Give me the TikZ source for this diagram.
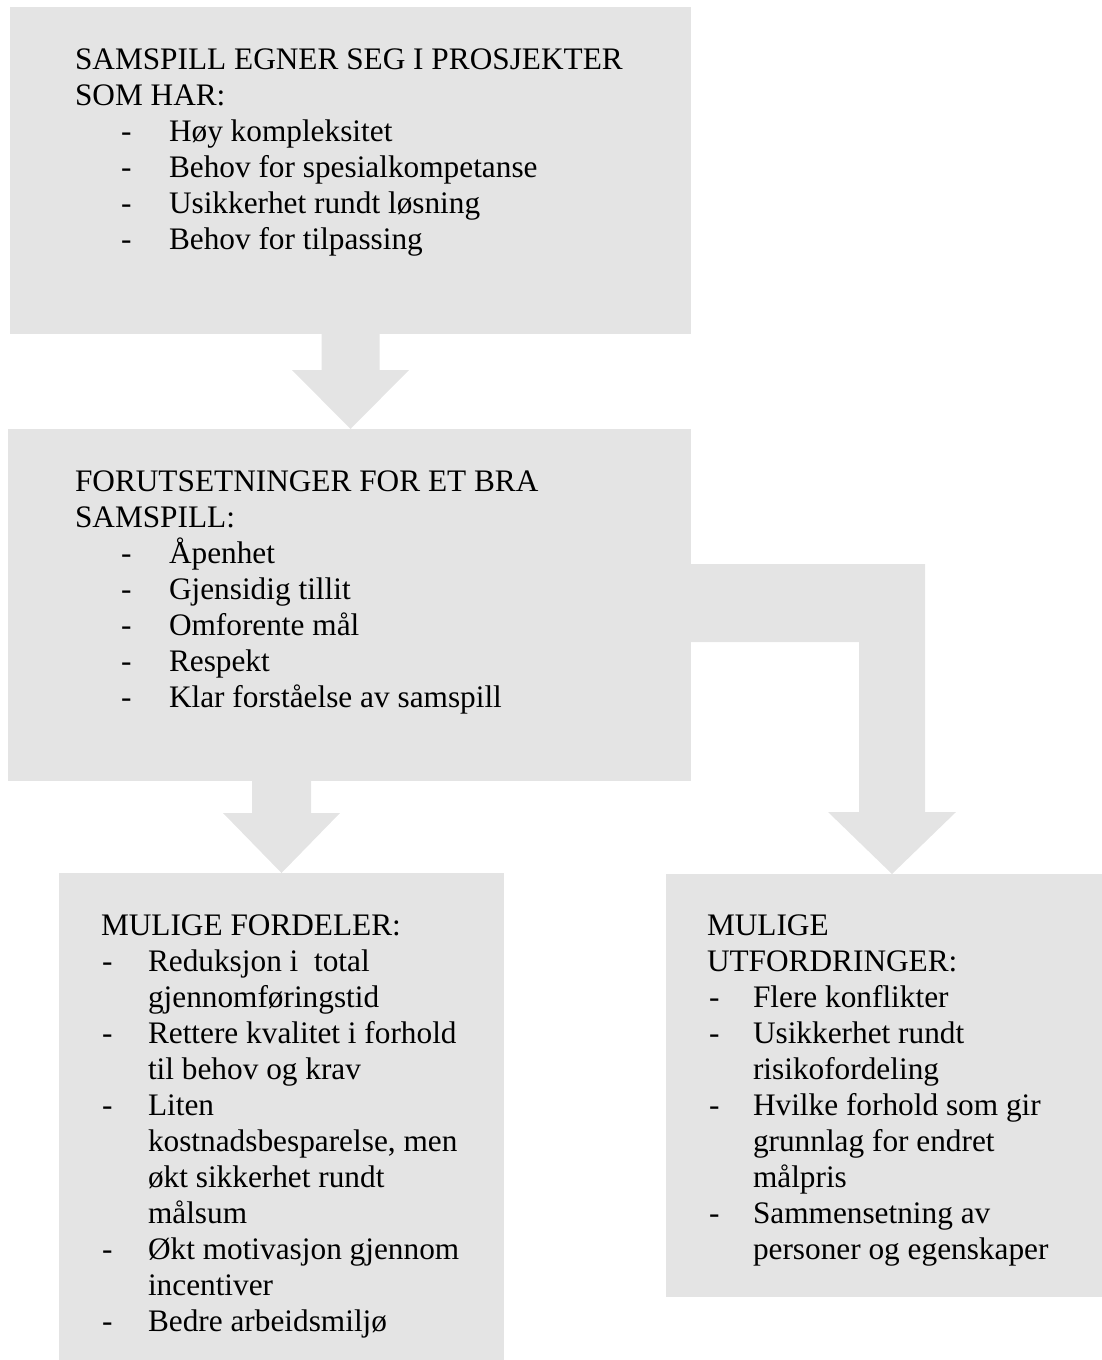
\documentclass[tikz,border=0pt]{standalone}
\usepackage{fontspec}
\setmainfont{Liberation Serif}
\usetikzlibrary{calc}
\definecolor{boxgray}{HTML}{E4E4E4}
\newcommand\myfs{\fontsize{31.3}{36}\selectfont}
\newcommand\tl[4]{\node[txt] (#1) at (#2,#3) {#4};}
\tikzset{
  box/.style={rectangle, fill=boxgray, draw=none, inner sep=0pt, outer sep=0pt, anchor=north west},
  txt/.style={anchor=base west, inner sep=0pt, outer sep=0pt, font=\myfs},
  blockarrow/.style={fill=boxgray, draw=none},
}
\begin{document}
\begin{tikzpicture}[x=1pt,y=-1pt]
\useasboundingbox (0,0) rectangle (1102,1360);
% boxes
\node[box, minimum width=681pt, minimum height=327pt] (b1) at (10,7) {};
\node[box, minimum width=683pt, minimum height=352pt] (b2) at (8,429) {};
\node[box, minimum width=445pt, minimum height=487pt] (b3) at (59,873) {};
\node[box, minimum width=436pt, minimum height=423pt] (b4) at (666,874) {};
% arrow b1 -> b2
\coordinate (a1s) at (b1.south);
\coordinate (a1t) at (b1.south |- b2.north);
\fill[blockarrow] ($(a1s)+(-29,0)$) -- ($(a1s)+(29,0)$) -- ($(a1s)+(29,36)$) -- ($(a1s)+(58.5,36)$)
  -- (a1t) -- ($(a1s)+(-58.5,36)$) -- ($(a1s)+(-29,36)$) -- cycle;
% arrow b2 -> b3
\coordinate (a2s) at (b3.north |- b2.south);
\coordinate (a2t) at (b3.north);
\fill[blockarrow] ($(a2s)+(-29.5,0)$) -- ($(a2s)+(29.5,0)$) -- ($(a2s)+(29.5,32)$) -- ($(a2s)+(58.5,32)$)
  -- (a2t) -- ($(a2s)+(-58.5,32)$) -- ($(a2s)+(-29.5,32)$) -- cycle;
% elbow arrow b2 -> b4
\coordinate (bt) at ($(b2.north east)+(0,135)$);
\coordinate (bb) at ($(b2.north east)+(0,213)$);
\coordinate (t) at ($(b4.north)+(8,0)$);
\coordinate (tr) at ($(t)+(33,0)$);
\coordinate (tl) at ($(t)+(-33,0)$);
\fill[blockarrow] (bt) -- (tr |- bt) -- ($(tr)+(0,-62)$) -- ($(t)+(64,-62)$) -- (t)
  -- ($(t)+(-64,-62)$) -- ($(tl)+(0,-62)$) -- (tl |- bb) -- (bb) -- cycle;
% box 1 text
\tl{t1a}{75}{69}{SAMSPILL EGNER SEG I PROSJEKTER}
\tl{t1b}{75}{105}{SOM HAR:}
\tl{d1a}{121}{141}{-}\tl{t1c}{169}{141}{Høy kompleksitet}
\tl{d1b}{121}{177}{-}\tl{t1d}{169}{177}{Behov for spesialkompetanse}
\tl{d1c}{121}{213}{-}\tl{t1e}{169}{213}{Usikkerhet rundt løsning}
\tl{d1d}{121}{249}{-}\tl{t1f}{169}{249}{Behov for tilpassing}
% box 2 text
\tl{t2a}{75}{491}{FORUTSETNINGER FOR ET BRA}
\tl{t2b}{75}{527}{SAMSPILL:}
\tl{d2a}{121}{563}{-}\tl{t2c}{169}{563}{Åpenhet}
\tl{d2b}{121}{599}{-}\tl{t2d}{169}{599}{Gjensidig tillit}
\tl{d2c}{121}{635}{-}\tl{t2e}{169}{635}{Omforente mål}
\tl{d2d}{121}{671}{-}\tl{t2f}{169}{671}{Respekt}
\tl{d2e}{121}{707}{-}\tl{t2g}{169}{707}{Klar forståelse av samspill}
% box 3 text
\tl{t3a}{101}{935}{MULIGE FORDELER:}
\tl{d3a}{102}{971}{-}\tl{t3b}{148}{971}{Reduksjon i\ \ total}
\tl{t3c}{148}{1007}{gjennomføringstid}
\tl{d3b}{102}{1043}{-}\tl{t3d}{148}{1043}{Rettere kvalitet i forhold}
\tl{t3e}{148}{1079}{til behov og krav}
\tl{d3c}{102}{1115}{-}\tl{t3f}{148}{1115}{Liten}
\tl{t3g}{148}{1151}{kostnadsbesparelse, men}
\tl{t3h}{148}{1187}{økt sikkerhet rundt}
\tl{t3i}{148}{1223}{målsum}
\tl{d3d}{102}{1259}{-}\tl{t3j}{148}{1259}{Økt motivasjon gjennom}
\tl{t3k}{148}{1295}{incentiver}
\tl{d3e}{102}{1331}{-}\tl{t3l}{148}{1331}{Bedre arbeidsmiljø}
% box 4 text
\tl{t4a}{707}{935}{MULIGE}
\tl{t4b}{707}{971}{UTFORDRINGER:}
\tl{d4a}{709}{1007}{-}\tl{t4c}{753}{1007}{Flere konflikter}
\tl{d4b}{709}{1043}{-}\tl{t4d}{753}{1043}{Usikkerhet rundt}
\tl{t4e}{753}{1079}{risikofordeling}
\tl{d4c}{709}{1115}{-}\tl{t4f}{753}{1115}{Hvilke forhold som gir}
\tl{t4g}{753}{1151}{grunnlag for endret}
\tl{t4h}{753}{1187}{målpris}
\tl{d4d}{709}{1223}{-}\tl{t4i}{753}{1223}{Sammensetning av}
\tl{t4j}{753}{1259}{personer og egenskaper}
\end{tikzpicture}
\end{document}
